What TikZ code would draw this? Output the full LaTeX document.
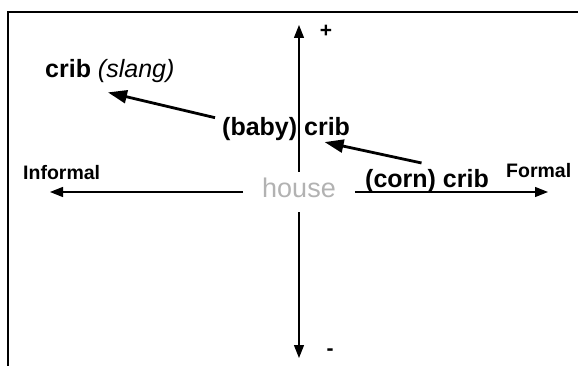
\documentclass[tikz,border=0pt]{standalone}
\usepackage{fontspec}
\setmainfont{Liberation Sans}
\usetikzlibrary{arrows.meta}
\begin{document}
\begin{tikzpicture}[x=1pt,y=-1pt,
  frame/.style={line width=1.1pt},
  axis/.style={line width=1.2pt,-{Triangle[length=13pt,width=10pt]}},
  bigarrow/.style={line width=2.8pt,-{Triangle[length=19pt,width=13pt]}},
  lbl/.style={font=\fontsize{25}{25}\selectfont\bfseries,inner sep=0pt,anchor=base west},
  side/.style={font=\fontsize{19.5}{20}\selectfont\bfseries,inner sep=0pt,anchor=base west},
  sign/.style={font=\fontsize{21}{21}\selectfont\bfseries,inner sep=0pt},
  housestyle/.style={font=\fontsize{27}{27}\selectfont,text=black!30,inner xsep=19pt,inner ysep=0pt,text height=25pt,text depth=15pt,anchor=base}
]
\useasboundingbox (0,0) rectangle (578,366);
\draw[frame] (8,366) -- (8,12) -- (578,12);

\node[housestyle] (house) at (299,197) {house};
\coordinate (top) at (299,25);
\coordinate (bottom) at (299,358);
\coordinate (left) at (50,192);
\coordinate (right) at (548,192);
\draw[axis] (house.north) -- (top);
\draw[axis] (house.south) -- (bottom);
\draw[axis] (house.west) -- (left);
\draw[axis] (house.east) -- (right);

\node[sign] (plus) at (326,31) {+};
\node[sign] (minus) at (330,352) {-};
\node[side] (informal) at (23,180) {Informal};
\node[side] (formal) at (506,178) {Formal};

\node[lbl] (slang) at (45,78) {crib \textmd{\itshape (slang)}};
\node[lbl] (baby) at (222,136) {(baby) crib};
\node[lbl] (corn) at (365,188) {(corn) crib};

\draw[bigarrow] ([xshift=-7pt]baby.north west) -- ([shift={(63pt,-9pt)}]slang.south west);
\draw[bigarrow] ([shift={(-5.5pt,6.7pt)}]corn.north) -- ([shift={(38.5pt,-0.7pt)}]baby.south);
\end{tikzpicture}
\end{document}
